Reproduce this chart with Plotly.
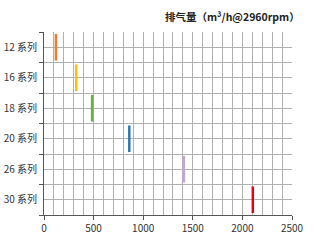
import plotly.graph_objects as go

series = ["12 系列", "16 系列", "18 系列", "20 系列", "26 系列", "30 系列"]
values = [120, 325, 485, 860, 1410, 2105]
colors = ["#ED7D31", "#FFC000", "#70AD47", "#2E75B6", "#C5A5D8", "#E60012"]
x_ticks = [0, 500, 1000, 1500, 2000, 2500]
title = "排气量（m³/h@2960rpm）"

pos = [i + 0.5 for i in range(len(series))]

fig = go.Figure()
fig.add_trace(go.Scatter(
    x=values, y=pos, mode="markers",
    marker=dict(symbol="line-ns", size=19, color=colors,
                line=dict(color=colors, width=2.5)),
    showlegend=False, hoverinfo="skip"))

font_family = "Noto Sans CJK SC, Noto Sans, sans-serif"
fig.update_layout(
    width=314, height=243,
    margin=dict(l=44, r=22, t=32, b=28),
    paper_bgcolor="white", plot_bgcolor="white",
    font=dict(family=font_family, size=10, color="#333333"),
    annotations=[dict(text="<b>" + title + "</b>", x=1.04, xref="paper", xanchor="right",
                      y=1.087, yref="paper", yanchor="middle", showarrow=False,
                      font=dict(size=10.5, color="#222222", family=font_family))],
)
fig.update_xaxes(
    range=[0, 2500], tickvals=x_ticks, ticks="outside", ticklen=4,
    tickcolor="#555555", showline=True, linecolor="#555555", linewidth=1,
    showgrid=True, gridcolor="#b0b0b0", gridwidth=1, zeroline=False,
    minor=dict(dtick=100, showgrid=True, gridcolor="#b0b0b0", gridwidth=1, ticks=""),
    tickfont=dict(size=10, color="#333333"), automargin=False, fixedrange=True)
fig.update_yaxes(
    range=[len(series), 0], tickvals=pos, ticktext=series, ticks="",
    showline=True, linecolor="#555555", linewidth=1, mirror=False,
    showgrid=True, gridcolor="#b0b0b0", gridwidth=1, zeroline=False,
    minor=dict(tickvals=list(range(len(series) + 1)), ticks="outside", ticklen=4,
               tickcolor="#555555", showgrid=True, gridcolor="#b0b0b0", gridwidth=1),
    ticklabelstandoff=4, automargin=False,
    tickfont=dict(size=10, color="#333333"), fixedrange=True)

fig.write_html("out.html")
